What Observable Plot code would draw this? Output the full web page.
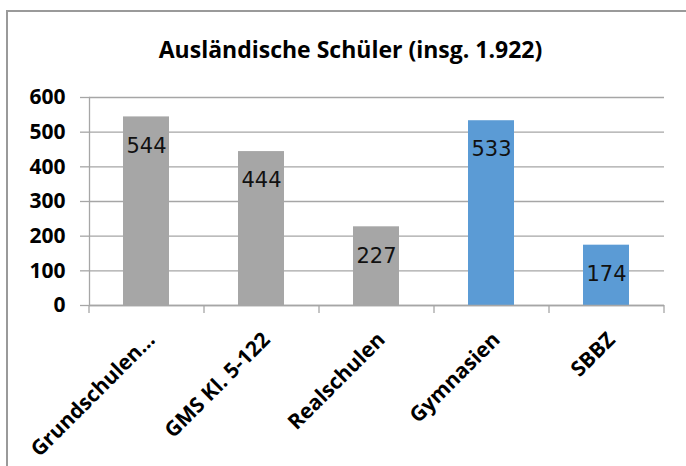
<!DOCTYPE html>
<html>
<head>
<meta charset="utf-8">
<script src="https://cdn.jsdelivr.net/npm/d3@7"></script>
<script src="https://cdn.jsdelivr.net/npm/@observablehq/plot@0.6"></script>
<style>
  html, body { margin: 0; padding: 0; background: #fff; }
  #wrap { position: relative; width: 686px; height: 466px; overflow: hidden; }
  #border { position: absolute; left: 6px; top: 10px; right: -10px; bottom: -10px;
            border-left: 2px solid #9a9a9a; border-top: 2px solid #9a9a9a; }
  #chart { position: absolute; left: 0; top: 0; }
</style>
</head>
<body>
<div id="wrap"><div id="border"></div><div id="chart"></div></div>
<script>
const title = "Ausländische Schüler (insg. 1.922)";
const categories = ["Grundschulen…", "GMS Kl. 5-122", "Realschulen", "Gymnasien", "SBBZ"];
const values = [544, 444, 227, 533, 174];
const colors = ["#a6a6a6", "#a6a6a6", "#a6a6a6", "#5b9bd5", "#5b9bd5"];
const yTicks = [0, 100, 200, 300, 400, 500, 600];

const data = categories.map((c, i) => ({category: c, value: values[i], color: colors[i]}));

const W = 686, H = 466, mL = 89, mR = 22, mT = 97, mB = 161;
const step = (W - mL - mR) / categories.length;
const grid = "#a6a6a6";

const chart = Plot.plot({
  width: W, height: H,
  marginLeft: mL, marginRight: mR, marginTop: mT, marginBottom: mB,
  style: {fontFamily: "Open Sans", background: "transparent", overflow: "visible"},
  x: {domain: categories, paddingInner: 0.6, paddingOuter: 0.3, label: null},
  y: {domain: [0, 600], label: null},
  marks: [
    Plot.gridY(yTicks, {stroke: grid, strokeOpacity: 1, strokeWidth: 1.3}),
    Plot.axisY({ticks: yTicks, tickSize: 9, stroke: grid, strokeOpacity: 1, strokeWidth: 1.3, text: null, label: null}),
    Plot.axisY({ticks: yTicks, tickSize: 0, tickPadding: 24, fill: "#000", fontSize: 21, fontWeight: "bold", tickFormat: d => String(d), label: null}),
    Plot.frame({anchor: "left", stroke: grid, strokeWidth: 1.3}),
    Plot.barY(data, {x: "category", y: "value", fill: "color"}),
    Plot.ruleY([0], {stroke: grid, strokeWidth: 1.3}),
    Plot.ruleX(data, {x: "category", y1: 0, y2: 0, insetBottom: -8, dx: -step / 2, stroke: grid, strokeWidth: 1.3}),
    Plot.ruleX([categories[categories.length - 1]], {x: d => d, y1: 0, y2: 0, insetBottom: -8, dx: step / 2, stroke: grid, strokeWidth: 1.3}),
    Plot.text(data, {x: "category", y: "value", text: d => String(d.value), dy: 29, fontSize: 21, fontFamily: "DejaVu Sans", fill: "#111"}),
    Plot.axisX({tickSize: 0, tickRotate: -45, fontSize: 21, fontWeight: "bold", fill: "#000", dx: 5, dy: 19, label: null}),
    Plot.text([title], {frameAnchor: "top-left", dx: 350 - mL, dy: -56, fontSize: 23, fontWeight: "bold", fill: "#000", textAnchor: "middle"})
  ]
});
document.getElementById("chart").appendChild(chart);
</script>
</body>
</html>
